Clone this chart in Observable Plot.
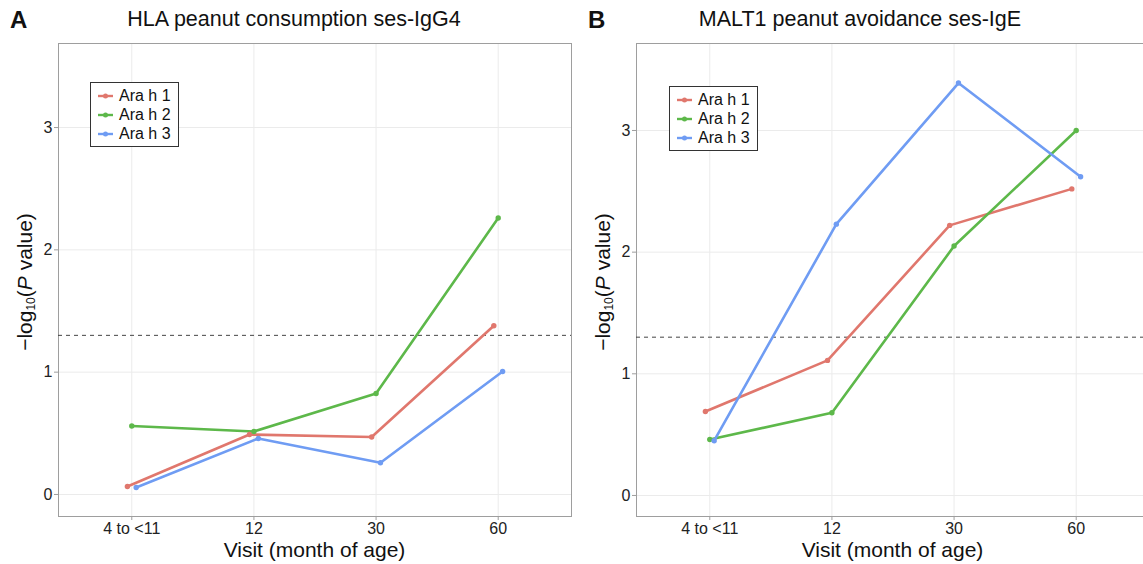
<!DOCTYPE html>
<html>
<head>
<meta charset="utf-8">
<script src="https://cdn.jsdelivr.net/npm/d3@7"></script>
<script src="https://cdn.jsdelivr.net/npm/@observablehq/plot@0.6"></script>
<style>
  html, body { margin: 0; padding: 0; background: #fff; overflow: hidden; }
  #wrap { position: relative; width: 1143px; height: 564px; overflow: hidden;
          font-family: "Liberation Sans", Arial, Helvetica, sans-serif; color: #111; }
  .panel { position: absolute; top: 0; }
  .tag { position: absolute; font-weight: bold; font-size: 24px; }
  .title { position: absolute; font-size: 21.5px; white-space: nowrap; transform: translateX(-50%); }
  .ylab { position: absolute; font-size: 21px; white-space: nowrap; transform: translate(-50%, -50%) rotate(-90deg); }
  .ylab sub { font-size: 12px; vertical-align: -3px; }
  .xlab { position: absolute; font-size: 21px; white-space: nowrap; transform: translateX(-50%); }
  .legend { position: absolute; border: 1px solid #333; background: #fff; padding: 3px 7px 3px 6px; font-size: 16px; }
  .legend .row { display: flex; align-items: center; height: 19px; }
  .legend svg { margin-right: 5px; }
</style>
</head>
<body>
<div id="wrap"></div>
<script>
// ---- data ----
const visits = ["4 to <11", "12", "30", "60"];
const series = ["Ara h 1", "Ara h 2", "Ara h 3"];
const colors = ["#E0776D", "#5DB84A", "#6F9CF3"];
const threshold = [1.301];

// Panel A: HLA peanut consumption ses-IgG4
const titleA = "HLA peanut consumption ses-IgG4";
const A_arah1 = [0.065, 0.49, 0.47, 1.38];
const A_arah2 = [0.56, 0.515, 0.826, 2.26];
const A_arah3 = [0.057, 0.458, 0.26, 1.006];

// Panel B: MALT1 peanut avoidance ses-IgE
const titleB = "MALT1 peanut avoidance ses-IgE";
const B_arah1 = [0.69, 1.11, 2.22, 2.52];
const B_arah2 = [0.46, 0.68, 2.05, 3.0];
const B_arah3 = [0.45, 2.23, 3.39, 2.62];

const yTicks = [0, 1, 2, 3];
const xTitle = "Visit (month of age)";

// ---- build ----
const dodge = 0.036;
function table(vals) {
  const rows = [];
  vals.forEach((v, s) => v.forEach((y, i) => rows.push({series: series[s], x: i + (s - 1) * dodge, y})));
  return rows;
}

function panel(vals, yDomain) {
  const data = table(vals);
  return Plot.plot({
    width: 580, height: 564,
    marginLeft: 58, marginRight: 9, marginTop: 43, marginBottom: 48,
    style: {fontFamily: '"Liberation Sans", Arial, Helvetica, sans-serif', fontSize: "16px", background: "transparent"},
    x: {domain: [-0.6, 3.6], axis: null},
    y: {domain: yDomain, axis: null},
    color: {domain: series, range: colors},
    marks: [
      Plot.gridX([0, 1, 2, 3], {stroke: "#EBEBEB", strokeOpacity: 1, strokeWidth: 1}),
      Plot.gridY(yTicks, {stroke: "#EBEBEB", strokeOpacity: 1, strokeWidth: 1}),
      Plot.frame({stroke: "#9E9E9E"}),
      Plot.axisX([0, 1, 2, 3], {tickFormat: i => visits[i], tickSize: 4, tickPadding: 2, stroke: "#9E9E9E", fill: "#222", label: null, fontSize: 16}),
      Plot.axisY(yTicks, {tickFormat: d => String(d), tickSize: 4, tickPadding: 2, stroke: "#9E9E9E", fill: "#222", label: null, fontSize: 16}),
      Plot.ruleY(threshold, {stroke: "#444", strokeDasharray: "4,4", strokeWidth: 1}),
      Plot.line(data, {x: "x", y: "y", z: "series", stroke: "series", strokeWidth: 2.6}),
      Plot.dot(data, {x: "x", y: "y", fill: "series", r: 2.7})
    ]
  });
}

const wrap = document.getElementById("wrap");

function addPanel(left, vals, yDomain, tag, title, titleX, legendPos) {
  const svg = panel(vals, yDomain);
  svg.classList.add("panel");
  svg.style.left = left + "px";
  wrap.appendChild(svg);

  const t = document.createElement("div");
  t.className = "tag"; t.textContent = tag;
  t.style.left = (left + 10) + "px"; t.style.top = "6px";
  wrap.appendChild(t);

  const h = document.createElement("div");
  h.className = "title"; h.textContent = title;
  h.style.left = titleX + "px"; h.style.top = "7px";
  wrap.appendChild(h);

  const yl = document.createElement("div");
  yl.className = "ylab";
  yl.innerHTML = "\u2212log<sub>10</sub>(<i>P</i> value)";
  yl.style.left = (left + 25) + "px"; yl.style.top = "282px";
  wrap.appendChild(yl);

  const xl = document.createElement("div");
  xl.className = "xlab"; xl.textContent = xTitle;
  xl.style.left = (left + 58 + 513 / 2) + "px"; xl.style.top = "538px";
  wrap.appendChild(xl);

  const lg = document.createElement("div");
  lg.className = "legend";
  lg.style.left = legendPos[0] + "px"; lg.style.top = legendPos[1] + "px";
  series.forEach((s, i) => {
    const row = document.createElement("div");
    row.className = "row";
    row.innerHTML = `<svg width="17" height="8"><line x1="1" y1="4" x2="16" y2="4" stroke="${colors[i]}" stroke-width="2.4"/><circle cx="8.5" cy="4" r="2.5" fill="${colors[i]}"/></svg><span>${s}</span>`;
    lg.appendChild(row);
  });
  wrap.appendChild(lg);
}

addPanel(0, [A_arah1, A_arah2, A_arah3], [-0.18, 3.687], "A", titleA, 294, [90, 82]);
addPanel(578, [B_arah1, B_arah2, B_arah3], [-0.173, 3.715], "B", titleB, 860, [669, 86]);
</script>
</body>
</html>
